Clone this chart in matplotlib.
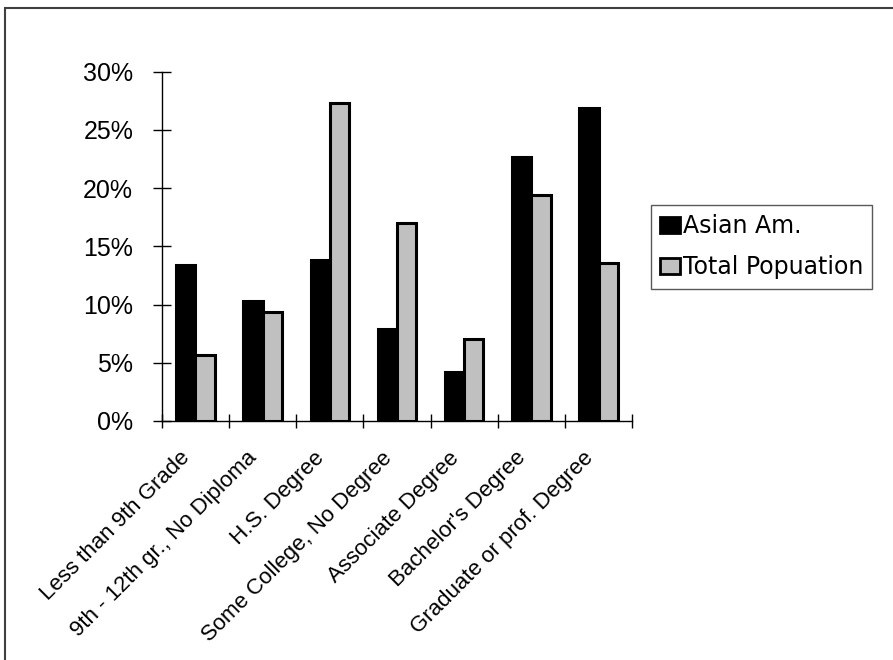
import matplotlib
matplotlib.use("Agg")
import matplotlib.pyplot as plt
import matplotlib.transforms as mtransforms
from matplotlib.patches import Rectangle
from matplotlib.ticker import FuncFormatter, FixedLocator
import numpy as np

plt.rcParams['font.family'] = ['Liberation Sans', 'DejaVu Sans']

categories = ["Less than 9th Grade", "9th - 12th gr., No Diploma", "H.S. Degree",
              "Some College, No Degree", "Associate Degree", "Bachelor's Degree",
              "Graduate or prof. Degree"]
asian_am = [13.4, 10.3, 13.8, 7.9, 4.25, 22.7, 26.9]
total_pop = [5.65, 9.4, 27.3, 17.0, 7.0, 19.4, 13.6]
series_names = ["Asian Am.", "Total Popuation"]
y_ticks = [0, 5, 10, 15, 20, 25, 30]

W, H = 893, 660
fig = plt.figure(figsize=(W / 100, H / 100), dpi=100)
fig.patch.set_facecolor('white')

# outer frame (left & top visible)
fig.add_artist(Rectangle((5 / W, -0.1), 1.2, 1.1 - 8 / H, transform=fig.transFigure,
                         fill=False, edgecolor='#404040', linewidth=1.5))

ax = fig.add_axes([161.7 / W, 1 - 421 / H, (632.3 - 161.7) / W, (421 - 71.7) / H])

x = np.arange(len(categories))
bw = 1 / 3.5
ax.bar(x - bw / 2, asian_am, width=bw, color='black', edgecolor='black',
       linewidth=2.2, label=series_names[0], zorder=3)
ax.bar(x + bw / 2, total_pop, width=bw, color='#c0c0c0', edgecolor='black',
       linewidth=2.2, label=series_names[1], zorder=3)

ax.set_xlim(-0.5, len(categories) - 0.5)
ax.set_ylim(0, 30)
for s in ['top', 'right']:
    ax.spines[s].set_visible(False)
for s in ['left', 'bottom']:
    ax.spines[s].set_linewidth(1.0)
    ax.spines[s].set_zorder(4)

ax.yaxis.set_major_locator(FixedLocator(y_ticks))
ax.yaxis.set_major_formatter(FuncFormatter(lambda v, p: f"{v:.0f}%"))
ax.tick_params(axis='y', direction='inout', length=13, width=1.0, labelsize=18, pad=14)
ax.xaxis.set_major_locator(FixedLocator(np.arange(len(categories) + 1) - 0.5))
ax.tick_params(axis='x', direction='inout', length=10, width=1.0, labelbottom=False)

off = mtransforms.offset_copy(ax.transData, fig=fig, x=-11.5, y=-19.0, units='points')
for i, c in enumerate(categories):
    ax.text(i, 0, c, transform=off, rotation=45, rotation_mode='anchor',
            ha='right', va='top', fontsize=16)

leg = ax.legend(loc='upper left', bbox_to_anchor=(651 / W, 1 - 205 / H),
                bbox_transform=fig.transFigure, borderaxespad=0,
                prop={'family': ['DejaVu Sans'], 'size': 17},
                handlelength=0.82, handleheight=0.65, handletextpad=0.12,
                labelspacing=0.72, borderpad=0.4, fancybox=False, frameon=True)
leg.get_frame().set_edgecolor('#303030')
leg.get_frame().set_linewidth(1.0)
for h in leg.legend_handles:
    h.set_linewidth(2.0)

fig.savefig("out.png", dpi=100, facecolor='white')
